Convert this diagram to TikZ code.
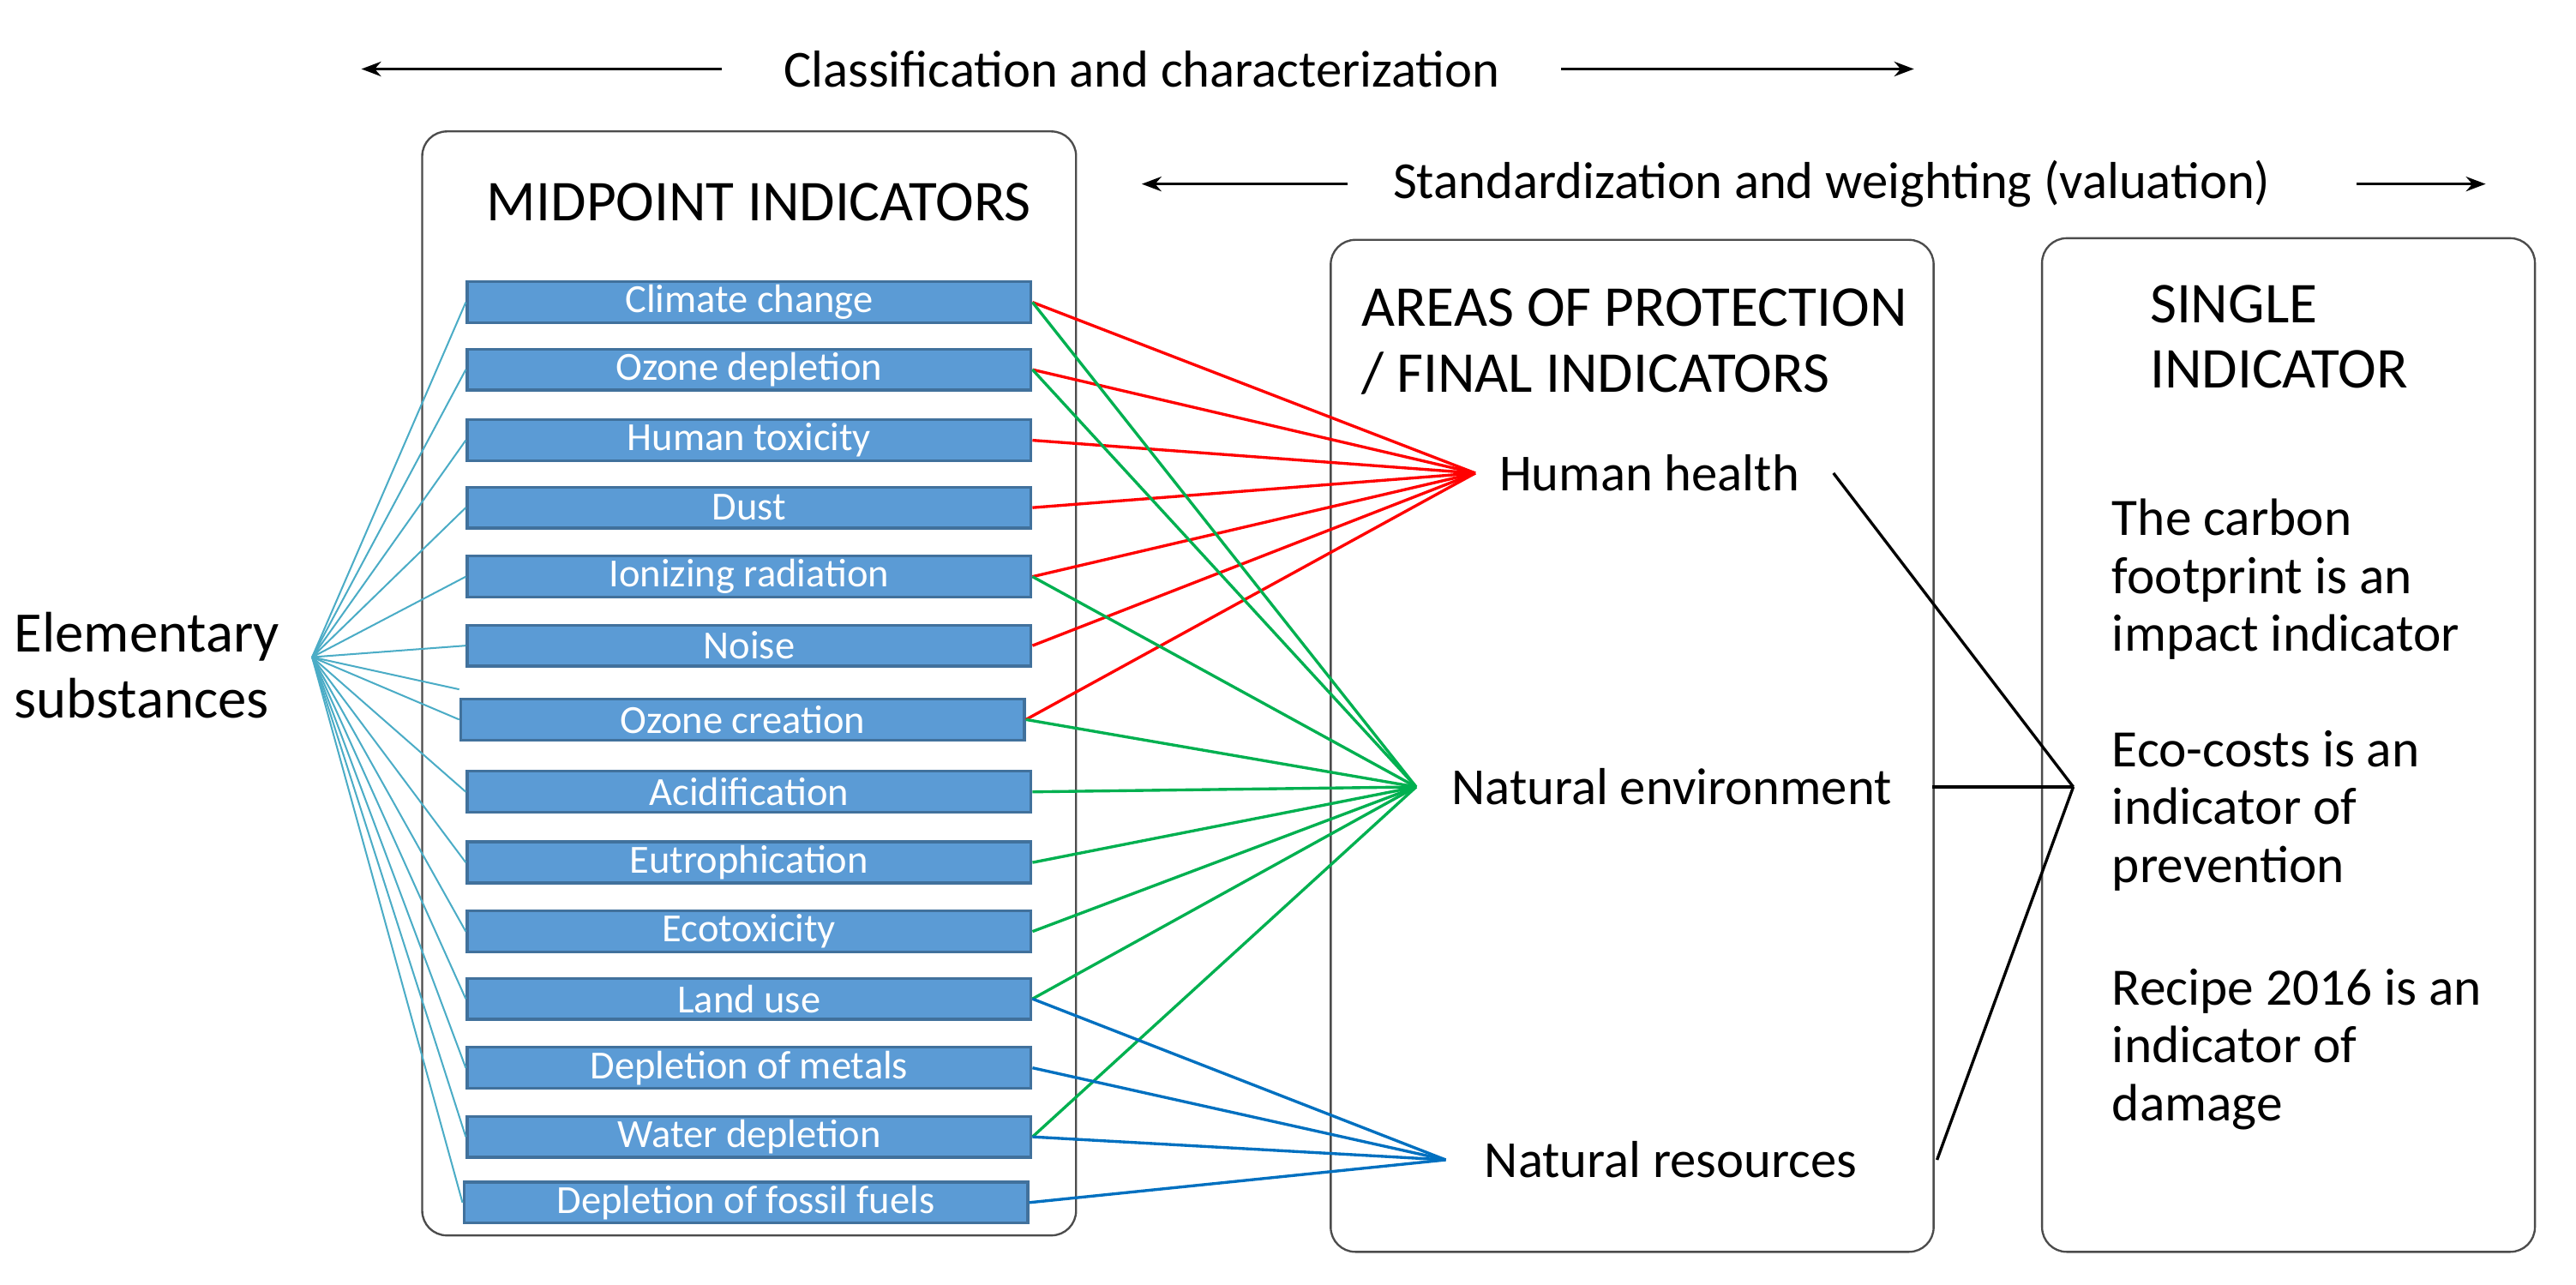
\documentclass[tikz,border=0pt]{standalone}
\usepackage{fontspec}
\setmainfont{Carlito}
\usetikzlibrary{arrows.meta}
\definecolor{boxfill}{HTML}{5B9BD5}
\definecolor{boxdraw}{HTML}{41719C}
\definecolor{cred}{HTML}{FF0000}
\definecolor{cgreen}{HTML}{00B050}
\definecolor{cblue}{HTML}{0070C0}
\definecolor{ccyan}{HTML}{4BACC6}
\begin{document}
\begin{tikzpicture}[x=0.01cm,y=-0.01cm,
  panel/.style={draw=black!70,rounded corners=0.15cm,line width=0.35pt},
  mid/.style={draw=boxdraw,fill=boxfill,line width=0.5pt,minimum width=3.43cm,minimum height=0.25cm,inner sep=0pt,text=white,font=\fontsize{6.9pt}{7pt}\selectfont},
  hdr/.style={font=\fontsize{10pt}{11.3pt}\selectfont,align=left},
  lbl/.style={font=\fontsize{9pt}{10pt}\selectfont},
  side/.style={font=\fontsize{9.1pt}{10pt}\selectfont,align=left,anchor=north west,inner sep=0pt},
  arr/.style={-{Stealth[length=0.12cm,width=0.09cm]},line width=0.4pt},
  red/.style={cred,line width=0.5pt},
  grn/.style={cgreen,line width=0.5pt},
  blu/.style={cblue,line width=0.5pt},
  cy/.style={ccyan,line width=0.3pt}]
\useasboundingbox (0,0) rectangle (1568,782);
% top labels
\node[lbl] (cc) at (695,42) {Classification and characterization};
\coordinate (ccl) at (220,42); \coordinate (ccr) at (1165,42);
\draw[arr] ([xshift=-0.25cm]cc.west) -- (ccl);
\draw[arr] ([xshift=0.25cm]cc.east) -- (ccr);
\node[lbl] (sw) at (1115,112) {Standardization and weighting (valuation)};
\coordinate (swl) at (695,112); \coordinate (swr) at (1513,112);
\draw[arr] ([xshift=-0.15cm]sw.west) -- (swl);
\draw[arr] ([xshift=0.4cm]sw.east) -- (swr);
% panels
\draw[panel] (257,80) rectangle (655,752);
\draw[panel] (810,146) rectangle (1177,762);
\draw[panel] (1243,145) rectangle (1543,762);
\node[hdr] (mt) at (462,123) {MIDPOINT INDICATORS};
\node[hdr,anchor=west,inner sep=0pt] (at) at (828,208) {AREAS OF PROTECTION\\/ FINAL INDICATORS};
\node[hdr,anchor=west,inner sep=0pt] (st) at (1308,205) {SINGLE\\INDICATOR};
% elementary
\node[font=\fontsize{9.9pt}{11.5pt}\selectfont,align=left,anchor=west,inner sep=0pt] (es) at (8,405) {Elementary\\substances};
\coordinate (hub) at (190,400);
% midpoint boxes
\node[mid] (m1) at (456,184) {Climate change};
\node[mid] (m2) at (456,225) {Ozone depletion};
\node[mid] (m3) at (456,268) {Human toxicity};
\node[mid] (m4) at (456,309) {Dust};
\node[mid] (m5) at (456,351) {Ionizing radiation};
\node[mid] (m6) at (456,393) {Noise};
\node[mid] (m7) at (452,438) {Ozone creation};
\node[mid] (m8) at (456,482) {Acidification};
\node[mid] (m9) at (456,525) {Eutrophication};
\node[mid] (m10) at (456,567) {Ecotoxicity};
\node[mid] (m11) at (456,608) {Land use};
\node[mid] (m12) at (456,650) {Depletion of metals};
\node[mid] (m13) at (456,692) {Water depletion};
\node[mid] (m14) at (454,732) {Depletion of fossil fuels};
\foreach \i in {1,...,14} \draw[cy] (hub) -- (m\i.west);
\draw[cy] (hub) -- ([yshift=0.05cm]m7.north west);
% final indicators
\node[lbl,anchor=west,inner sep=0pt] (hh) at (912,288) {Human health};
\node[lbl,anchor=west,inner sep=0pt] (ne) at (883,479) {Natural environment};
\node[lbl,anchor=west,inner sep=0pt] (nr) at (903,706) {Natural resources};
\coordinate (hhp) at (898,288);
\coordinate (nep) at (862,479);
\coordinate (nrp) at (880,706);
\foreach \i in {1,2,3,4,5,6,7} \draw[red] (m\i.east) -- (hhp);
\foreach \i in {1,2,5,7,8,9,10,11,13} \draw[grn] (m\i.east) -- (nep);
\foreach \i in {11,12,13,14} \draw[blu] (m\i.east) -- (nrp);
% single indicator
\coordinate (join) at (1262,479);
\draw[line width=0.5pt] ([xshift=0.2cm]hh.east) -- (join);
\draw[line width=0.5pt] ([xshift=0.24cm]ne.east) -- (join);
\draw[line width=0.5pt] ([xshift=0.48cm]nr.east) -- (join);
\node[side] (s1) at (1285,303) {The carbon\\footprint is an\\impact indicator};
\node[side] (s2) at (1285,444) {Eco-costs is an\\indicator of\\prevention};
\node[side] (s3) at (1285,589) {Recipe 2016 is an\\indicator of\\damage};
\end{tikzpicture}
\end{document}
